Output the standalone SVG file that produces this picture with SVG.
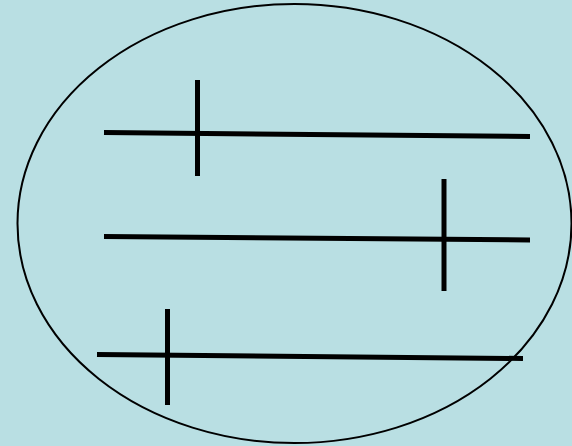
<svg xmlns="http://www.w3.org/2000/svg" width="572" height="446" viewBox="0 0 572 446">
<style>
.bar{stroke:#000;stroke-width:5;fill:none}
</style>
<rect width="572" height="446" fill="#b9dfe3"/>
<ellipse cx="294.5" cy="223.5" rx="277" ry="219.5" fill="none" stroke="#000" stroke-width="2"/>
<g id="chromosome1">
<line class="bar" x1="104" y1="132.5" x2="530" y2="136.5"/>
<line class="bar" x1="197.5" y1="80" x2="197.5" y2="176"/>
</g>
<g id="chromosome2">
<line class="bar" x1="104" y1="236.5" x2="530" y2="240"/>
<line class="bar" x1="444" y1="179" x2="444" y2="291"/>
</g>
<g id="chromosome3">
<line class="bar" x1="97" y1="354.5" x2="523" y2="358.5"/>
<line class="bar" x1="167.5" y1="309" x2="167.5" y2="405"/>
</g>
</svg>
